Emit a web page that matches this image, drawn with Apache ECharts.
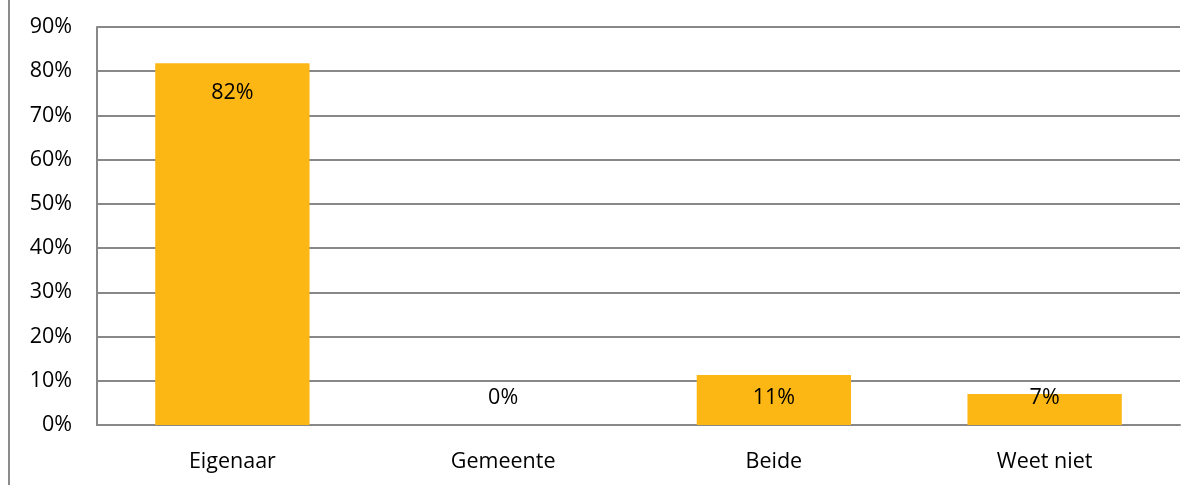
<!DOCTYPE html>
<html>
<head>
<meta charset="utf-8">
<script src="https://cdn.jsdelivr.net/npm/echarts@6/dist/echarts.min.js"></script>
<style>
html,body{margin:0;padding:0;background:#fff;}
#chart{width:1200px;height:485px;}
</style>
</head>
<body>
<div id="chart"></div>
<script>
var categories = ['Eigenaar', 'Gemeente', 'Beide', 'Weet niet'];
var values = [81.8, 0, 11.3, 7.0];
var valueLabels = ['82%', '0%', '11%', '7%'];

var FONT = 'Open Sans';
var FS = 21.5;
var chart = echarts.init(document.getElementById('chart'));
var data = values.map(function (v, i) {
  var tall = v > 20;
  return {
    value: v,
    label: tall
      ? { position: 'insideTop', distance: 19, formatter: valueLabels[i] }
      : { position: 'insideBottom', distance: 16, formatter: valueLabels[i] }
  };
});
chart.setOption({
  animation: false,
  grid: { left: 97, right: 20, top: 27, bottom: 60, containLabel: false },
  graphic: [{
    type: 'line', shape: { x1: 9, y1: 0, x2: 9, y2: 485 },
    style: { stroke: '#8c8c8c', lineWidth: 2 }
  }],
  xAxis: {
    type: 'category', data: categories,
    axisLine: { show: true, lineStyle: { color: '#888', width: 2 } },
    axisTick: { show: false },
    axisLabel: { color: '#000', fontFamily: FONT, fontSize: FS, margin: 26 }
  },
  yAxis: {
    type: 'value', min: 0, max: 90, interval: 10,
    axisLine: { show: true, lineStyle: { color: '#888', width: 2 } },
    axisTick: { show: false },
    splitLine: { lineStyle: { color: '#888', width: 2 } },
    axisLabel: { color: '#000', fontFamily: FONT, fontSize: FS, margin: 25, formatter: '{value}%' }
  },
  series: [{
    type: 'bar', data: data, barWidth: '57%',
    itemStyle: { color: '#FCB714' },
    label: { show: true, color: '#000', fontFamily: FONT, fontSize: FS }
  }]
});
</script>
</body>
</html>
